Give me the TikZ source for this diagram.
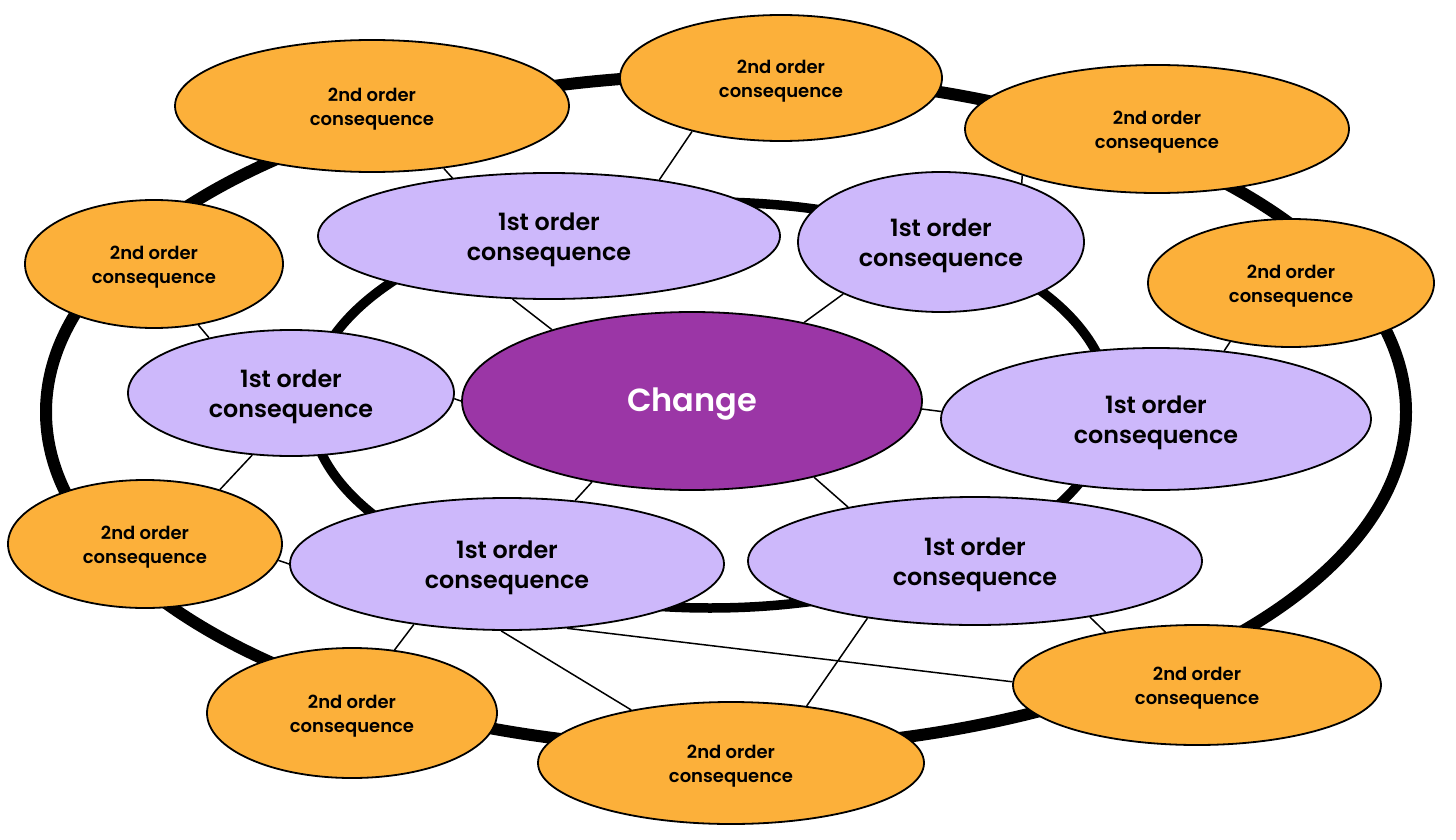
\documentclass[tikz,border=0pt]{standalone}
\usepackage{fontspec}
\IfFontExistsTF{Poppins SemiBold}{\setmainfont{Poppins}[BoldFont={Poppins SemiBold}]}{\setmainfont{Poppins}}
\usetikzlibrary{shapes.geometric,backgrounds}
\definecolor{orangec}{HTML}{FCB03A}
\definecolor{lilac}{HTML}{CDB8FB}
\definecolor{plum}{HTML}{9B36A6}
\newcommand\twolines[3]{\raisebox{#3}[\height][\depth]{\begin{tabular}{@{}c@{}}#1\\#2\end{tabular}}}
\newcommand\secondtext{\twolines{2nd order}{consequence}{-3pt}}
\newcommand\firsttext{\twolines{1st order}{consequence}{-3pt}}
\tikzset{
  oval/.style={ellipse, draw=black, line width=1.8pt, inner sep=0pt},
  second/.style={oval, fill=orangec, text=black, font=\fontsize{18pt}{24pt}\selectfont\bfseries},
  first/.style={oval, fill=lilac, text=black, font=\fontsize{23.8pt}{30pt}\selectfont\bfseries},
  core/.style={oval, fill=plum, text=white, font=\fontsize{32pt}{38pt}\selectfont\bfseries},
  ring/.style={draw=black},
  link/.style={draw=black, line width=1.5pt}
}
\begin{document}
\begin{tikzpicture}[x=1pt,y=-1pt]
\useasboundingbox (0,0) rectangle (1456,840);
% centre
\node[core, minimum width=460pt, minimum height=178pt] (ch) at (692,401) {\raisebox{-3pt}[\height][\depth]{Change}};
% first order
\node[first, minimum width=462pt, minimum height=126pt] (ftl) at (549,236) {\firsttext};
\node[first, minimum width=286pt, minimum height=140pt] (ftr) at (941,242) {\firsttext};
\node[first, minimum width=326pt, minimum height=126pt] (fl) at (291,393) {\firsttext};
\node[first, minimum width=430pt, minimum height=142pt] (fr) at (1156,419) {\firsttext};
\node[first, minimum width=434pt, minimum height=132pt] (fbl) at (507,564) {\firsttext};
\node[first, minimum width=454pt, minimum height=128pt] (fbr) at (975,561) {\firsttext};
% second order
\node[second, minimum width=394pt, minimum height=132pt] (stl) at (372,106) {\secondtext};
\node[second, minimum width=322pt, minimum height=126pt] (stc) at (781,78) {\secondtext};
\node[second, minimum width=384pt, minimum height=128pt] (str) at (1157,129) {\secondtext};
\node[second, minimum width=258pt, minimum height=128pt] (slu) at (154,264) {\secondtext};
\node[second, minimum width=286pt, minimum height=128pt] (sru) at (1291,283) {\secondtext};
\node[second, minimum width=274pt, minimum height=128pt] (sll) at (145,544) {\secondtext};
\node[second, minimum width=290pt, minimum height=130pt] (sbl) at (352,713) {\secondtext};
\node[second, minimum width=386pt, minimum height=122pt] (sbc) at (731,763) {\secondtext};
\node[second, minimum width=368pt, minimum height=120pt] (sbr) at (1197,685) {\secondtext};
\begin{pgfonlayer}{background}
  \draw[ring, line width=12pt] (726,412) ellipse [x radius=680pt, y radius=337pt];
  \draw[ring, line width=9.5pt] (710,405) ellipse [x radius=400pt, y radius=203pt];
  \path[link] (ftl.-120) -- (ch.153.4);
  \path[link] (ftr.-152.8) -- (ch.35.8);
  \path[link] (fl.-2) -- (ch.180);
  \path[link] (ch.-2.2) -- (fr.178);
  \path[link] (ch.-141) -- (fbl.43.1);
  \path[link] (ch.-32) -- (fbr.157);
  \path[link] (stl.-41.2) -- (ftl.149.4);
  \path[link] (stc.-149.9) -- (ftl.27.6);
  \path[link] (str.-161.9) -- (ftr.36.2);
  \path[link] (slu.-54.8) -- (fl.146.9);
  \path[link] (sru.-136.4) -- (fr.45);
  \path[link] (fl.-122) -- (sll.36.3);
  \path[link] (sll.-7.6) -- (fbl.180);
  \path[link] (fbl.-147) -- (sbl.56.5);
  \path[link] (fbl.-95.1) -- (sbc.152.4);
  \path[link] (fbl.-47.3) -- (sbr.179.4);
  \path[link] (fbr.-152.2) -- (sbc.37.3);
  \path[link] (fbr.-26.8) -- (sbr.150.3);
\end{pgfonlayer}
\end{tikzpicture}
\end{document}
